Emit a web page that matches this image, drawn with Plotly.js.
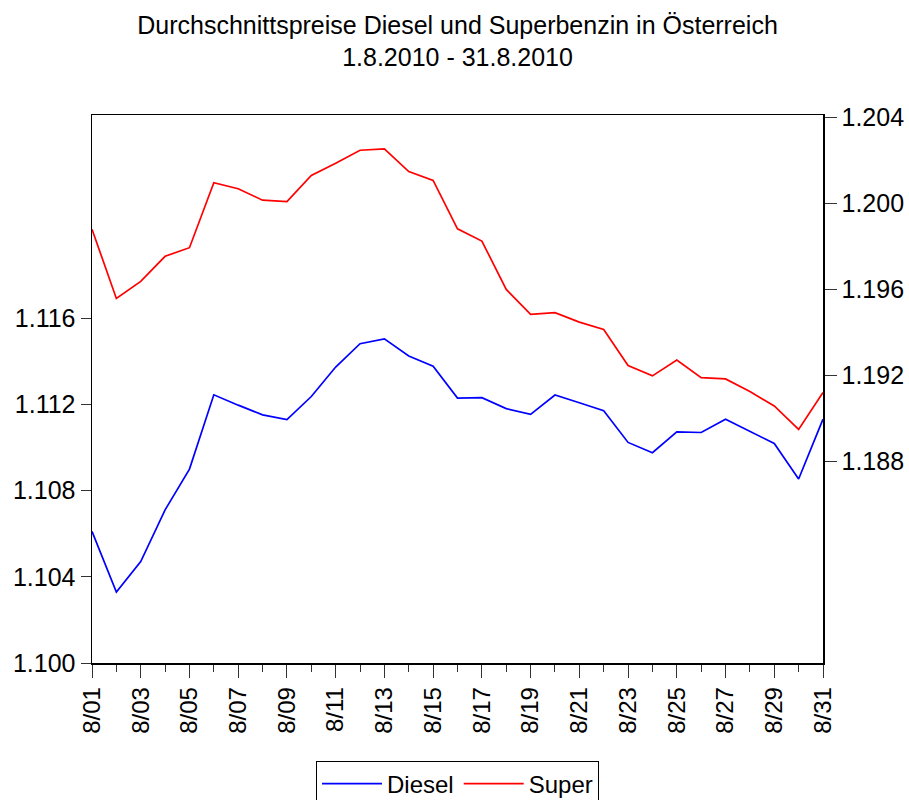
<!DOCTYPE html>
<html>
<head>
<meta charset="utf-8">
<script src="https://cdn.plot.ly/plotly-3.0.1.min.js"></script>
<style>html,body{margin:0;padding:0;background:#fff;}#chart{width:909px;height:800px;}</style>
</head>
<body>
<div id="chart"></div>
<script>
const days = [1,2,3,4,5,6,7,8,9,10,11,12,13,14,15,16,17,18,19,20,21,22,23,24,25,26,27,28,29,30,31];
const tickDays = [1,3,5,7,9,11,13,15,17,19,21,23,25,27,29,31];
const tickLabels = ["8/01","8/03","8/05","8/07","8/09","8/11","8/13","8/15","8/17","8/19","8/21","8/23","8/25","8/27","8/29","8/31"];
const diesel = [1.10611,1.10329,1.10471,1.10711,1.10900,1.11245,1.11197,1.11152,1.11130,1.11237,
                1.11374,1.11482,1.11505,1.11425,1.11378,1.11230,1.11232,1.11181,1.11154,1.11244,
                1.11208,1.11171,1.11024,1.10976,1.11073,1.11070,1.11132,1.11075,1.11019,1.10854,1.11132];
const superb = [1.19879,1.19557,1.19636,1.19753,1.19793,1.20095,1.20067,1.20014,1.20007,1.20129,
                1.20186,1.20246,1.20252,1.20147,1.20106,1.19881,1.19824,1.19599,1.19483,1.19491,
                1.19447,1.19413,1.19245,1.19197,1.19271,1.19189,1.19183,1.19124,1.19057,1.18948,1.19120];
const leftTicks = [1.100,1.104,1.108,1.112,1.116];
const rightTicks = [1.188,1.192,1.196,1.200,1.204];

const FONT = 'Liberation Sans, Arial, sans-serif';
const traces = [
  {x: days, y: diesel, name: 'Diesel', type: 'scatter', mode: 'lines',
   line: {color: '#0000ff', width: 1.7}, yaxis: 'y'},
  {x: days, y: superb, name: 'Super', type: 'scatter', mode: 'lines',
   line: {color: '#ff0000', width: 1.7}, yaxis: 'y2'}
];
const layout = {
  width: 909, height: 800,
  margin: {l: 92, r: 86, t: 115, b: 137, autoexpand: false},
  paper_bgcolor: '#fff', plot_bgcolor: '#fff',
  font: {family: FONT, color: '#000'},
  showlegend: true,
  title: {text: 'Durchschnittspreise Diesel und Superbenzin in Österreich<br>1.8.2010 - 31.8.2010',
          x: 0.5, xref: 'paper', xanchor: 'center', y: 0.958, yref: 'container', yanchor: 'top',
          font: {family: FONT, size: 25, color: '#000'}},
  xaxis: {range: [1, 31], tickmode: 'array', tickvals: tickDays, ticktext: tickLabels,
          tickangle: -90, ticks: 'outside', ticklen: 13, tickcolor: '#333', tickwidth: 1,
          showline: true, linecolor: '#000', linewidth: 1.5, mirror: true,
          showgrid: false, zeroline: false, automargin: false,
          tickfont: {family: FONT, size: 24, color: '#000'},
          minor: {ticks: 'outside', tickmode: 'linear', tick0: 1, dtick: 1, ticklen: 7, tickcolor: '#333', showgrid: false}},
  yaxis: {range: [1.100, 1.12544], tickmode: 'array', tickvals: leftTicks,
          ticktext: leftTicks.map(v => v.toFixed(3)), automargin: false,
          ticks: 'outside', ticklen: 10, tickcolor: '#333', showline: true, linecolor: '#000', linewidth: 1.5,
          showgrid: false, zeroline: false,
          tickfont: {family: FONT, size: 25, color: '#000'}},
  yaxis2: {range: [1.17862, 1.2041], overlaying: 'y', side: 'right', tickmode: 'array', tickvals: rightTicks,
          ticktext: rightTicks.map(v => v.toFixed(3)), automargin: false,
          ticks: 'outside', ticklen: 12, tickcolor: '#333', showline: true, linecolor: '#000', linewidth: 1.5,
          showgrid: false, zeroline: false,
          tickfont: {family: FONT, size: 25, color: '#000'}},
  legend: {orientation: 'h', x: 0.5, xanchor: 'center', y: -0.178, yanchor: 'top',
           bordercolor: '#000', borderwidth: 1, bgcolor: '#fff', itemwidth: 60,
           font: {family: FONT, size: 24, color: '#000'}}
};
Plotly.newPlot('chart', traces, layout, {displayModeBar: false, staticPlot: true});
</script>
</body>
</html>
